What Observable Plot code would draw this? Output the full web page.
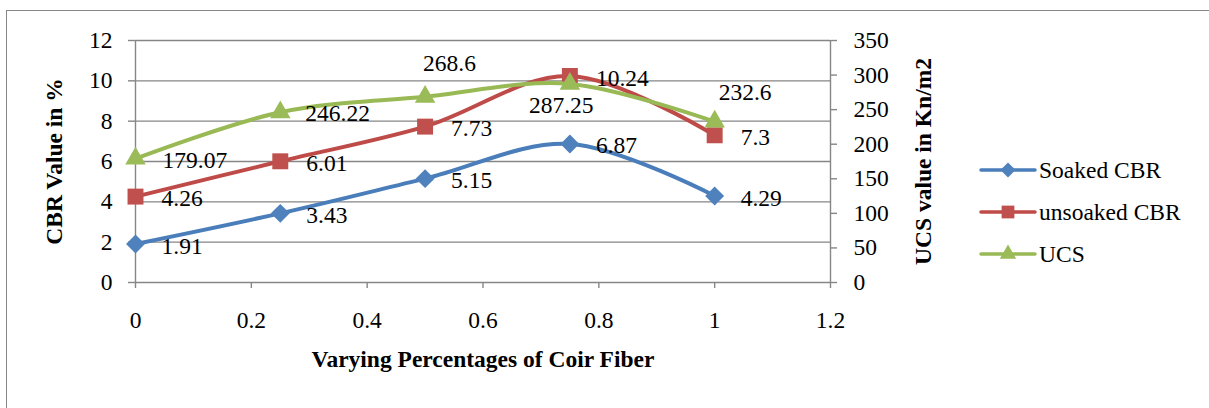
<!DOCTYPE html>
<html><head><meta charset="utf-8">
<script src="https://cdn.jsdelivr.net/npm/d3@7"></script>
<script src="https://cdn.jsdelivr.net/npm/@observablehq/plot@0.6"></script>
<style>
html,body{margin:0;padding:0;background:#fff;overflow:hidden;}
#wrap{position:relative;width:1209px;height:408px;font-family:"Liberation Serif","Times New Roman",serif;}
#frame{position:absolute;left:6px;top:10px;width:1240px;height:440px;border:1.5px solid #868686;box-sizing:border-box;}
#wrap svg{position:absolute;left:0;top:0;}
</style></head><body><div id="wrap"><div id="frame"></div></div>
<script>
// ---- data ----
const fiber = [0, 0.25, 0.5, 0.75, 1];
const soakedCBR = [1.91, 3.43, 5.15, 6.87, 4.29];
const unsoakedCBR = [4.26, 6.01, 7.73, 10.24, 7.3];
const ucs = [179.07, 246.22, 268.6, 287.25, 232.6];
const seriesNames = ["Soaked CBR", "unsoaked CBR", "UCS"];
const xTicks = [0, 0.2, 0.4, 0.6, 0.8, 1, 1.2];
const cbrTicks = [0, 2, 4, 6, 8, 10, 12];
const ucsTicks = [0, 50, 100, 150, 200, 250, 300, 350];
const xTitle = "Varying Percentages of Coir Fiber";
const yLeftTitle = "CBR Value in %";
const yRightTitle = "UCS value in Kn/m2";

// ---- styling ----
const W = 1209, H = 408;
const M = {marginLeft: 135, marginRight: 379, marginTop: 40, marginBottom: 126};
const FONT = "'Liberation Serif', Tinos, 'Times New Roman', serif";
const FS = "23.5px";
const GRID = "#868686";
const colors = {line: ["#4A7EBB", "#BE4B48", "#98B954"], fill: ["#4F81BD", "#C0504D", "#9BBB59"]};
const symbols = ["diamond2", "square", "triangle"];
const radii = [8.5, 9, 7.6];
const style = {fontFamily: FONT, fontSize: FS, color: "#000", background: "transparent", overflow: "visible"};
const txt = {fill: "#000"};
// label offsets (dx, dy) relative to each point
const rightOff = fiber.map(() => [26, 2]);
const ucsOff = [[27, 2], [25, 1], [-2, -33], [-41, 22], [4, -29]];

const rows = (ys) => fiber.map((x, i) => ({x, y: ys[i], i}));

function seriesMarks(ys, k, offs) {
  const data = rows(ys);
  return [
    Plot.line(data, {x: "x", y: "y", curve: "catmull-rom", stroke: colors.line[k], strokeWidth: 4, strokeLinejoin: "round", strokeLinecap: "round"}),
    Plot.dot(data, {x: "x", y: "y", symbol: () => symbols[k], r: radii[k], fill: colors.fill[k], stroke: "none"}),
    ...data.map((d, i) => Plot.text([d], {...txt, x: "x", y: "y", text: (d) => String(d.y), textAnchor: "start", dx: offs[i][0], dy: offs[i][1]}))
  ];
}

const p1 = Plot.plot({
  width: W, height: H, ...M, style,
  x: {domain: [0, 1.2]},
  y: {domain: [0, 12]},
  marks: [
    Plot.ruleY(cbrTicks, {stroke: GRID, strokeWidth: 1.4}),
    Plot.ruleX([0, 1.2], {stroke: GRID, strokeWidth: 1.4}),
    Plot.axisY({ticks: cbrTicks, tickSize: 7, tickPadding: 16, label: null, stroke: GRID, strokeWidth: 1.4, tickFormat: (d) => String(d)}),
    Plot.axisX({ticks: xTicks, tickSize: 6, tickPadding: 23, label: null, stroke: GRID, strokeWidth: 1.4, tickFormat: (d) => String(d)}),
    ...seriesMarks(soakedCBR, 0, rightOff),
    ...seriesMarks(unsoakedCBR, 1, rightOff),
    Plot.text([yLeftTitle], {...txt, text: (d) => d, frameAnchor: "left", textAnchor: "middle", dx: -81, rotate: -90, fontWeight: "bold"}),
    Plot.text([xTitle], {...txt, text: (d) => d, frameAnchor: "bottom", textAnchor: "middle", dy: 84, fontWeight: "bold"})
  ]
});

const p2 = Plot.plot({
  width: W, height: H, ...M, style,
  x: {domain: [0, 1.2], axis: null},
  y: {domain: [0, 350]},
  marks: [
    Plot.axisY({anchor: "right", ticks: ucsTicks, tickSize: 6, tickPadding: 17, label: null, stroke: GRID, strokeWidth: 1.4, tickFormat: (d) => String(d)}),
    ...seriesMarks(ucs, 2, ucsOff),
    Plot.text([yRightTitle], {...txt, text: (d) => d, frameAnchor: "right", textAnchor: "middle", dx: 93, rotate: -90, fontWeight: "bold"})
  ]
});

const wrap = document.getElementById("wrap");
wrap.appendChild(p1);
wrap.appendChild(p2);

// ---- legend ----
const legend = d3.select(wrap).append("svg").attr("width", W).attr("height", H);
const symFns = [d3.symbolDiamond2, d3.symbolSquare, d3.symbolTriangle];
seriesNames.forEach((name, k) => {
  const y = 170 + k * 42;
  const g = legend.append("g");
  g.append("line").attr("x1", 981).attr("x2", 1035).attr("y1", y).attr("y2", y)
    .attr("stroke", colors.line[k]).attr("stroke-width", 3.5).attr("stroke-linecap", "round");
  g.append("path").attr("transform", `translate(1008,${y})`)
    .attr("d", d3.symbol(symFns[k], Math.PI * (radii[k] * 0.8) ** 2)()).attr("fill", colors.fill[k]);
  g.append("text").attr("x", 1039).attr("y", y).attr("dy", "0.35em").attr("fill", "#000").text(name);
});

// apply the serif face directly on every text element
d3.select(wrap).selectAll("svg text").each(function () {
  const bold = this.getAttribute("font-weight") === "bold" || (this.parentNode && this.parentNode.getAttribute("font-weight") === "bold");
  this.setAttribute("style", `font-family:${FONT};font-size:${FS};${bold ? "font-weight:bold;" : ""}`);
});
</script></body></html>
